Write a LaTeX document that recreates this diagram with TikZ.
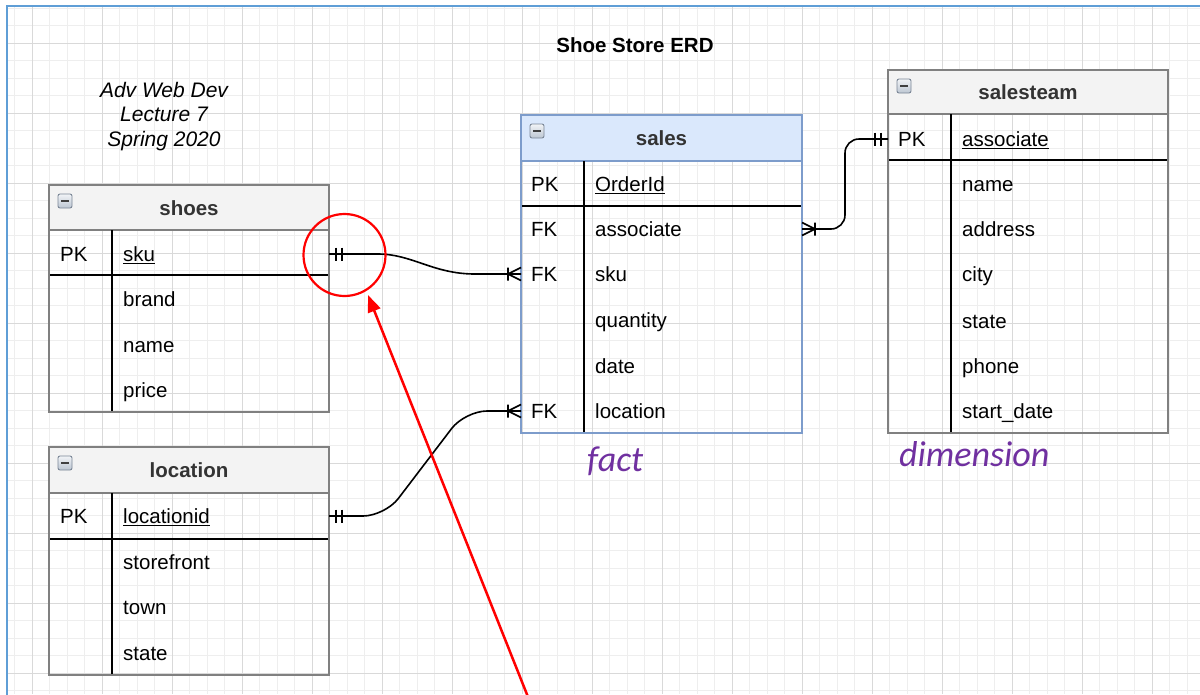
\documentclass[tikz,border=0pt]{standalone}
\usepackage{fontspec}
\setmainfont{Liberation Sans}
\newfontfamily\carlito{Carlito}
\usetikzlibrary{arrows.meta}
\definecolor{gridminor}{HTML}{EEEEEE}
\definecolor{gridmajor}{HTML}{D9D9D9}
\definecolor{frameblue}{HTML}{5F9ED6}
\definecolor{tabgray}{HTML}{808080}
\definecolor{hdrgray}{HTML}{F3F3F3}
\definecolor{salesfill}{HTML}{DAE8FC}
\definecolor{salesline}{HTML}{7D9CCB}
\definecolor{purp}{HTML}{7030A0}
\definecolor{iconedge}{HTML}{7A8696}
\definecolor{icontop}{HTML}{F2F4F7}
\definecolor{iconbot}{HTML}{BCC6D2}
\definecolor{hdrtxt}{HTML}{333333}

\newcommand{\ertab}[9]{%
 \fill[hdrfill] (#2,#4) rectangle (#3,#5);
 \draw[tabline] (#2,#5) -- (#3,#5);
 \draw[sepline] (#2,#6) -- (#3,#6);
 \draw[sepline] (#8,#5) -- (#8,#7);
 \draw[tabline] (#2,#4) rectangle (#3,#7);
 \node[minusicon] (#1-icon) at ({#2+16},{#4+16}) {};
 \node[hdrtext] (#1) at ({(#2+#3)/2},{(#4+#5)/2+7.5}) {#9};
}
\newcommand{\ulnode}[1]{\draw[line width=1.3pt] ([yshift=-2.5pt]#1.base west) -- ([yshift=-2.5pt]#1.base east);}
% crow's foot (one or many), line arriving from the left at #1
\newcommand{\crowL}[1]{\draw[conn] ([xshift=-13pt]#1) -- ([yshift=6.5pt]#1) ([xshift=-13pt]#1) -- ([yshift=-6.5pt]#1) ([xshift=-13pt,yshift=6.5pt]#1) -- ([xshift=-13pt,yshift=-6.5pt]#1);}
\newcommand{\crowR}[1]{\draw[conn] ([xshift=13pt]#1) -- ([yshift=6.5pt]#1) ([xshift=13pt]#1) -- ([yshift=-6.5pt]#1) ([xshift=13pt,yshift=6.5pt]#1) -- ([xshift=13pt,yshift=-6.5pt]#1);}
% mandatory one (two bars)
\newcommand{\barsR}[1]{\draw[conn] ([xshift=7pt,yshift=6.5pt]#1) -- ([xshift=7pt,yshift=-6.5pt]#1) ([xshift=13pt,yshift=6.5pt]#1) -- ([xshift=13pt,yshift=-6.5pt]#1);}
\newcommand{\barsL}[1]{\draw[conn] ([xshift=-7pt,yshift=6.5pt]#1) -- ([xshift=-7pt,yshift=-6.5pt]#1) ([xshift=-13pt,yshift=6.5pt]#1) -- ([xshift=-13pt,yshift=-6.5pt]#1);}

\begin{document}
\begin{tikzpicture}[x=1pt,y=-1pt,
  hdrfill/.style={fill=hdrgray},
  tabline/.style={draw=tabgray,line width=1.5pt},
  sepline/.style={draw=black,line width=1.5pt},
  minusicon/.style={draw=iconedge,line width=0.9pt,rounded corners=2pt,minimum size=14pt,inner sep=0pt,
    top color=icontop,bottom color=iconbot,
    path picture={\draw[line width=1.8pt,black!75] ([xshift=-3.8pt]path picture bounding box.center) -- ([xshift=3.8pt]path picture bounding box.center);}},
  hdrtext/.style={font=\bfseries\fontsize{20.5}{24}\selectfont,text=hdrtxt,inner sep=0pt,anchor=base},
  cell/.style={font=\fontsize{20.5}{24}\selectfont,text=black,inner sep=0pt,anchor=base west},
  conn/.style={draw=black,line width=1.6pt},
  note/.style={font=\itshape\fontsize{21}{24}\selectfont,inner sep=0pt,anchor=base},
  tag/.style={font=\carlito\itshape\fontsize{36}{40}\selectfont,text=purp,inner sep=0pt,anchor=base west},
  callout/.style={draw=red,line width=2.2pt}
]
\useasboundingbox (0,0) rectangle (1200,694);
\fill[white] (0,0) rectangle (1200,694);
% grid
\begin{scope}
\clip (7,6) rectangle (1200,694);
\foreach \i in {0,...,68} \draw[gridminor,line width=1pt] ({14.5+17.5*\i},0) -- ({14.5+17.5*\i},694);
\foreach \j in {0,...,39} \draw[gridminor,line width=1pt] (0,{8+17.5*\j}) -- (1200,{8+17.5*\j});
\foreach \i in {0,...,16} \draw[gridmajor,line width=1pt] ({32+70*\i},0) -- ({32+70*\i},694);
\foreach \j in {0,...,9} \draw[gridmajor,line width=1pt] (0,{43+70*\j}) -- (1200,{43+70*\j});
\end{scope}
\draw[frameblue,line width=2.2pt] (7,700) -- (7,6) -- (1205,6);

% title and note
\node[font=\bfseries\fontsize{20.5}{24}\selectfont,inner sep=0pt,anchor=base] (title) at (635,52) {Shoe Store ERD};
\node[note] (note1) at (164,97) {Adv Web Dev};
\node[note] (note2) at (164,121.5) {Lecture 7};
\node[note] (note3) at (164,146) {Spring 2020};

% shoes
\ertab{shoes}{49}{329}{185}{230}{275}{412}{112}{shoes}
\node[cell] (shoes-k1) at (60,261) {PK};
\node[cell] (shoes-sku) at (123,261) {sku};
\ulnode{shoes-sku}
\node[cell] (shoes-brand) at (123,306) {brand};
\node[cell] (shoes-name) at (123,352) {name};
\node[cell] (shoes-price) at (123,397) {price};

% location
\ertab{location}{49}{329}{447}{493}{539}{675}{112}{location}
\node[cell] (loc-k1) at (60,523) {PK};
\node[cell] (loc-id) at (123,523) {locationid};
\ulnode{loc-id}
\node[cell] (loc-store) at (123,569) {storefront};
\node[cell] (loc-town) at (123,614) {town};
\node[cell] (loc-state) at (123,660) {state};

% sales
\begin{scope}[hdrfill/.style={fill=salesfill}, tabline/.style={draw=salesline,line width=1.5pt}]
\ertab{sales}{521}{802}{115}{161}{206}{433}{584}{sales}
\end{scope}
\node[cell] (sales-k1) at (531,191) {PK};
\node[cell] (sales-id) at (595,191) {OrderId};
\ulnode{sales-id}
\node[cell] (sales-k2) at (531,236) {FK};
\node[cell] (sales-assoc) at (595,236) {associate};
\node[cell] (sales-k3) at (531,281) {FK};
\node[cell] (sales-sku) at (595,281) {sku};
\node[cell] (sales-qty) at (595,327) {quantity};
\node[cell] (sales-date) at (595,373) {date};
\node[cell] (sales-k4) at (531,418) {FK};
\node[cell] (sales-loc) at (595,418) {location};

% salesteam
\ertab{team}{888}{1168}{70}{114}{160}{433}{951}{salesteam}
\node[cell] (team-k1) at (898,146) {PK};
\node[cell] (team-assoc) at (962,146) {associate};
\ulnode{team-assoc}
\node[cell] (team-name) at (962,191) {name};
\node[cell] (team-addr) at (962,236) {address};
\node[cell] (team-city) at (962,281) {city};
\node[cell] (team-state) at (962,328) {state};
\node[cell] (team-phone) at (962,373) {phone};
\node[cell] (team-start) at (962,418) {start\_date};

% labels
\node[tag] (fact) at (587,471) {fact};
\node[tag] (dimension) at (899,466) {dimension};

% connector anchors
\coordinate (shoes-r) at (329,254);
\coordinate (sales-sku-l) at (521,274);
\coordinate (sales-assoc-r) at (802,229);
\coordinate (team-pk-l) at (888,139);
\coordinate (loc-r) at (329,516);
\coordinate (sales-loc-l) at (521,411);

% shoes -> sales
\draw[conn] (shoes-r) -- (378,254) .. controls (412,254) and (433,274) .. (475,274) -- (sales-sku-l);
\barsR{shoes-r}
\crowL{sales-sku-l}
% sales -> salesteam
\draw[conn,rounded corners=14pt] (sales-assoc-r) -- (845,229) -- (845,139) -- (team-pk-l);
\crowR{sales-assoc-r}
\barsL{team-pk-l}
% location -> sales
\draw[conn,rounded corners=22pt] (loc-r) -- (385,516) -- (465,411) -- (sales-loc-l);
\barsR{loc-r}
\crowL{sales-loc-l}

% annotation
\node[callout,circle,minimum size=82pt,inner sep=0pt] (ring) at (344.5,255) {};
\coordinate (arrow-start) at (530,702);
\coordinate (arrow-tip) at (368,295);
\draw[red,line width=2.5pt,-{Triangle[length=17pt,width=13pt]}] (arrow-start) -- (arrow-tip);
\end{tikzpicture}
\end{document}
